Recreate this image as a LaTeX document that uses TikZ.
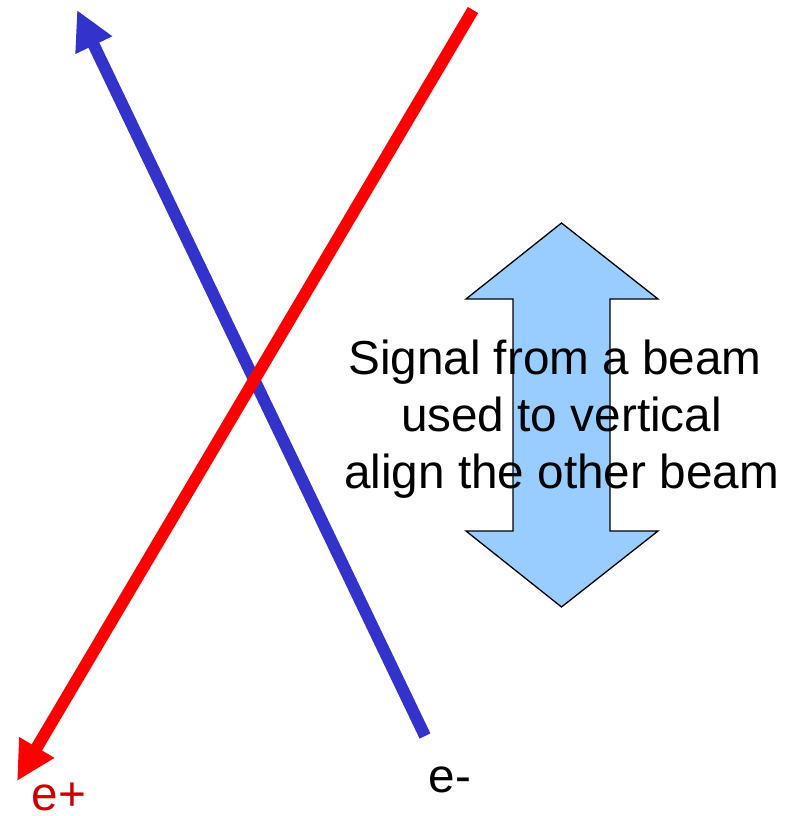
\documentclass[tikz,border=0pt]{standalone}
\usepackage{fontspec}
\setmainfont{Liberation Sans}
\usepackage{xcolor}
\usepackage{tikz}
\usetikzlibrary{positioning,arrows.meta}

\definecolor{beamblue}{RGB}{51,51,204}
\definecolor{beamred}{RGB}{255,0,0}
\definecolor{labelred}{RGB}{204,0,0}
\definecolor{signalfill}{RGB}{153,204,255}

\begin{document}
\begin{tikzpicture}[x=1bp,y=-1bp,
  every node/.style={font=\fontsize{47.7bp}{56.7bp}\selectfont, inner sep=0pt},
  beam/.style={line width=12bp, -{Triangle[length=39bp,width=38bp]}}]
  \useasboundingbox (0,0) rectangle (794,816);

  % beam ends
  \coordinate (emstart) at (425,736);
  \coordinate (emend) at (77,10);
  \coordinate (epstart) at (473,10);
  \coordinate (epend) at (17,781);

  % signal arrow
  \filldraw[fill=signalfill,draw=black,line width=1.3bp]
    (561.5,223) -- (658,299) -- (610,299) -- (610,531) -- (658,531)
    -- (561.5,607) -- (466,531) -- (513,531) -- (513,299) -- (466,299) -- cycle;

  % beams
  \draw[beam,draw=beamblue,fill=beamblue] (emstart) -- (emend);
  \draw[beam,draw=beamred,fill=beamred] (epstart) -- (epend);

  % labels
  \node[anchor=base,text=labelred] (eplabel) at (59,810) {e+};
  \node[anchor=base] (emlabel) at (450,792) {e-};
  \node[align=center] (signal) at (561.5,419)
    {Signal from a beam\hspace*{13bp}\\used to vertical\\align the other beam};
\end{tikzpicture}
\end{document}
